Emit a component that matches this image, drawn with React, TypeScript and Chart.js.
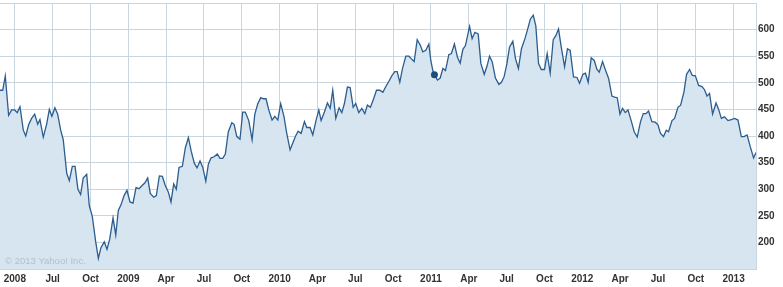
import { useEffect, useRef } from 'react';
import { Chart, registerables } from 'chart.js';

Chart.register(...registerables);

// Decimal-year dates of the weekly closes
const dates = [
  2008.152, 2008.170, 2008.187, 2008.209, 2008.229, 2008.249, 2008.266, 2008.284, 2008.306, 2008.322,
  2008.341, 2008.361, 2008.381, 2008.401, 2008.416, 2008.438, 2008.460, 2008.478, 2008.495, 2008.515,
  2008.533, 2008.553, 2008.570, 2008.593, 2008.610, 2008.630, 2008.648, 2008.667, 2008.685, 2008.702,
  2008.725, 2008.742, 2008.762, 2008.784, 2008.802, 2008.819, 2008.841, 2008.859, 2008.877, 2008.899,
  2008.917, 2008.934, 2008.952, 2008.972, 2008.991, 2009.011, 2009.031, 2009.051, 2009.071, 2009.091,
  2009.110, 2009.128, 2009.145, 2009.168, 2009.185, 2009.205, 2009.225, 2009.243, 2009.264, 2009.282,
  2009.300, 2009.317, 2009.335, 2009.357, 2009.377, 2009.397, 2009.416, 2009.436, 2009.454, 2009.474,
  2009.492, 2009.512, 2009.529, 2009.547, 2009.567, 2009.588, 2009.606, 2009.624, 2009.641, 2009.661,
  2009.684, 2009.699, 2009.717, 2009.738, 2009.756, 2009.773, 2009.796, 2009.818, 2009.836, 2009.855,
  2009.875, 2009.892, 2009.910, 2009.928, 2009.950, 2009.968, 2009.988, 2010.007, 2010.029, 2010.047,
  2010.069, 2010.087, 2010.104, 2010.122, 2010.142, 2010.164, 2010.179, 2010.201, 2010.219, 2010.241,
  2010.259, 2010.274, 2010.296, 2010.316, 2010.334, 2010.351, 2010.371, 2010.393, 2010.411, 2010.428,
  2010.448, 2010.466, 2010.486, 2010.503, 2010.523, 2010.543, 2010.563, 2010.580, 2010.600, 2010.620,
  2010.640, 2010.662, 2010.682, 2010.702, 2010.722, 2010.741, 2010.761, 2010.777, 2010.794, 2010.812,
  2010.834, 2010.854, 2010.871, 2010.889, 2010.909, 2010.929, 2010.946, 2010.966, 2010.986, 2010.999,
  2011.013, 2011.023, 2011.043, 2011.061, 2011.079, 2011.096, 2011.118, 2011.135, 2011.155, 2011.175,
  2011.193, 2011.211, 2011.228, 2011.255, 2011.272, 2011.290, 2011.312, 2011.330, 2011.352, 2011.370,
  2011.387, 2011.405, 2011.426, 2011.449, 2011.466, 2011.484, 2011.502, 2011.519, 2011.541, 2011.559,
  2011.578, 2011.598, 2011.621, 2011.639, 2011.657, 2011.676, 2011.693, 2011.711, 2011.729, 2011.750,
  2011.768, 2011.788, 2011.808, 2011.826, 2011.843, 2011.861, 2011.883, 2011.902, 2011.920, 2011.942,
  2011.965, 2011.982, 2012.004, 2012.021, 2012.039, 2012.059, 2012.079, 2012.097, 2012.112, 2012.134,
  2012.152, 2012.174, 2012.196, 2012.213, 2012.231, 2012.249, 2012.266, 2012.284, 2012.302, 2012.324,
  2012.343, 2012.363, 2012.385, 2012.403, 2012.421, 2012.438, 2012.460, 2012.482, 2012.500, 2012.517,
  2012.537, 2012.555, 2012.570, 2012.593, 2012.610, 2012.632, 2012.650, 2012.672, 2012.689, 2012.709,
  2012.727, 2012.747, 2012.769, 2012.791, 2012.808, 2012.824, 2012.841, 2012.861, 2012.884, 2012.901,
  2012.919, 2012.940, 2012.963, 2012.985, 2013.007, 2013.029, 2013.051, 2013.069, 2013.089, 2013.110,
  2013.132, 2013.148,
];

const prices = [
  486, 486, 513, 439, 449, 449, 444, 455, 411, 400,
  421, 433, 441, 422, 431, 398, 422, 450, 437, 453,
  441, 411, 393, 330, 316, 343, 343, 300, 290, 321,
  328, 269, 249, 202, 170, 190, 201, 187, 206, 246,
  214, 260, 271, 288, 298, 276, 274, 303, 301, 307,
  312, 321, 292, 285, 288, 325, 324, 308, 295, 276,
  310, 300, 341, 343, 378, 397, 371, 349, 340, 353,
  341, 315, 347, 359, 361, 366, 358, 358, 366, 408,
  425, 422, 399, 394, 445, 445, 429, 393, 441, 460,
  472, 470, 470, 449, 430, 437, 430, 461, 436, 405,
  374, 387, 399, 409, 405, 427, 416, 416, 402, 430,
  449, 429, 445, 462, 452, 486, 433, 453, 444, 461,
  492, 491, 454, 461, 444, 452, 442, 458, 454, 469,
  486, 486, 482, 493, 503, 513, 521, 521, 501, 527,
  550, 550, 545, 540, 581, 571, 558, 561, 573, 542,
  522, 515, 505, 509, 527, 523, 553, 555, 573, 548,
  537, 563, 570, 606, 583, 595, 592, 536, 516, 531,
  550, 539, 509, 497, 501, 512, 536, 567, 578, 545,
  527, 564, 583, 601, 620, 627, 607, 536, 525, 525,
  555, 518, 581, 589, 601, 567, 530, 564, 561, 511,
  510, 499, 516, 518, 501, 547, 542, 525, 520, 540,
  525, 508, 475, 473, 472, 441, 452, 444, 449, 428,
  408, 398, 427, 442, 442, 447, 427, 426, 421, 405,
  399, 411, 408, 429, 433, 454, 458, 483, 516, 525,
  514, 513, 495, 493, 487, 475, 480, 441, 462, 450,
  433, 436, 429, 431, 433, 430, 399, 399, 402, 380,
  359, 369,
];

const markerDate = 2011.023;

const xTickValues = [
  2008.25, 2008.5, 2008.75,
  2009, 2009.25, 2009.5, 2009.75,
  2010, 2010.25, 2010.5, 2010.75,
  2011, 2011.25, 2011.5, 2011.75,
  2012, 2012.25, 2012.5, 2012.75,
  2013,
];
const xTickLabels = [
  '2008', 'Jul', 'Oct',
  '2009', 'Apr', 'Jul', 'Oct',
  '2010', 'Apr', 'Jul', 'Oct',
  '2011', 'Apr', 'Jul', 'Oct',
  '2012', 'Apr', 'Jul', 'Oct',
  '2013',
];
const yTickLabels = [200, 250, 300, 350, 400, 450, 500, 550, 600];

const creditText = '\u00A9 2013 Yahoo! Inc.';

const gridColor = '#c9d5df';
const lineColor = '#2b5d8f';
const fillColor = '#d6e5f0';
const markerColor = '#1d4b7a';
const labelColor = '#333333';

const creditPlugin = {
  id: 'credit',
  afterDatasetsDraw(chart: any) {
    const { ctx, chartArea } = chart;
    ctx.save();
    ctx.font = '9.5px "Liberation Sans", Arial, sans-serif';
    ctx.fillStyle = '#b3c0cc';
    ctx.textBaseline = 'middle';
    ctx.textAlign = 'left';
    ctx.fillText(creditText, chartArea.left + 5, chartArea.bottom - 7.5);
    ctx.restore();
  },
};

export default function App() {
  const ref = useRef<HTMLCanvasElement>(null);

  useEffect(() => {
    document.body.style.margin = '0';
    const tickFont = { family: '"Liberation Sans", Arial, sans-serif', size: 10, weight: 'bold' as const };
    const chart = new Chart(ref.current!, {
      type: 'line',
      data: {
        datasets: [
          {
            data: dates.map((d, i) => ({ x: d, y: prices[i] })),
            borderColor: lineColor,
            borderWidth: 1.3,
            backgroundColor: fillColor,
            fill: 'start',
            tension: 0,
            pointRadius: (c: any) => (dates[c.dataIndex] === markerDate ? 3.5 : 0),
            pointHoverRadius: 0,
            pointBackgroundColor: markerColor,
            pointBorderWidth: 0,
          },
        ],
      },
      options: {
        responsive: false,
        animation: false,
        devicePixelRatio: 1,
        events: [],
        layout: { padding: { top: 3, left: 0, right: 0, bottom: 0 } },
        plugins: { legend: { display: false }, tooltip: { enabled: false } },
        scales: {
          x: {
            type: 'linear',
            bounds: 'data',
            min: 2008.152,
            max: 2013.148,
            afterBuildTicks: (s: any) => {
              s.ticks = xTickValues.map((v) => ({ value: v }));
            },
            afterFit: (s: any) => {
              s.height = 18;
              s.paddingLeft = 0;
              s.paddingRight = 0;
            },
            ticks: {
              autoSkip: false,
              maxRotation: 0,
              padding: 4,
              font: tickFont,
              color: labelColor,
              callback: (_v: any, i: number) => xTickLabels[i],
            },
            grid: { color: gridColor, drawTicks: false, lineWidth: 1 },
            border: { color: gridColor },
          },
          y: {
            type: 'linear',
            position: 'right',
            min: 150,
            max: 650,
            afterFit: (s: any) => {
              s.width = 27;
              s.paddingTop = 0;
              s.paddingBottom = 0;
            },
            ticks: {
              stepSize: 50,
              padding: 2,
              font: tickFont,
              color: labelColor,
              callback: (v: any) => (yTickLabels.includes(Number(v)) ? String(v) : ''),
            },
            grid: { color: gridColor, drawTicks: false, lineWidth: 1 },
            border: { color: gridColor },
          },
        },
      },
      plugins: [creditPlugin],
    });
    return () => chart.destroy();
  }, []);

  return (
    <div style={{ width: 783, height: 287 }}>
      <canvas ref={ref} width={783} height={287} style={{ display: 'block' }} />
    </div>
  );
}
